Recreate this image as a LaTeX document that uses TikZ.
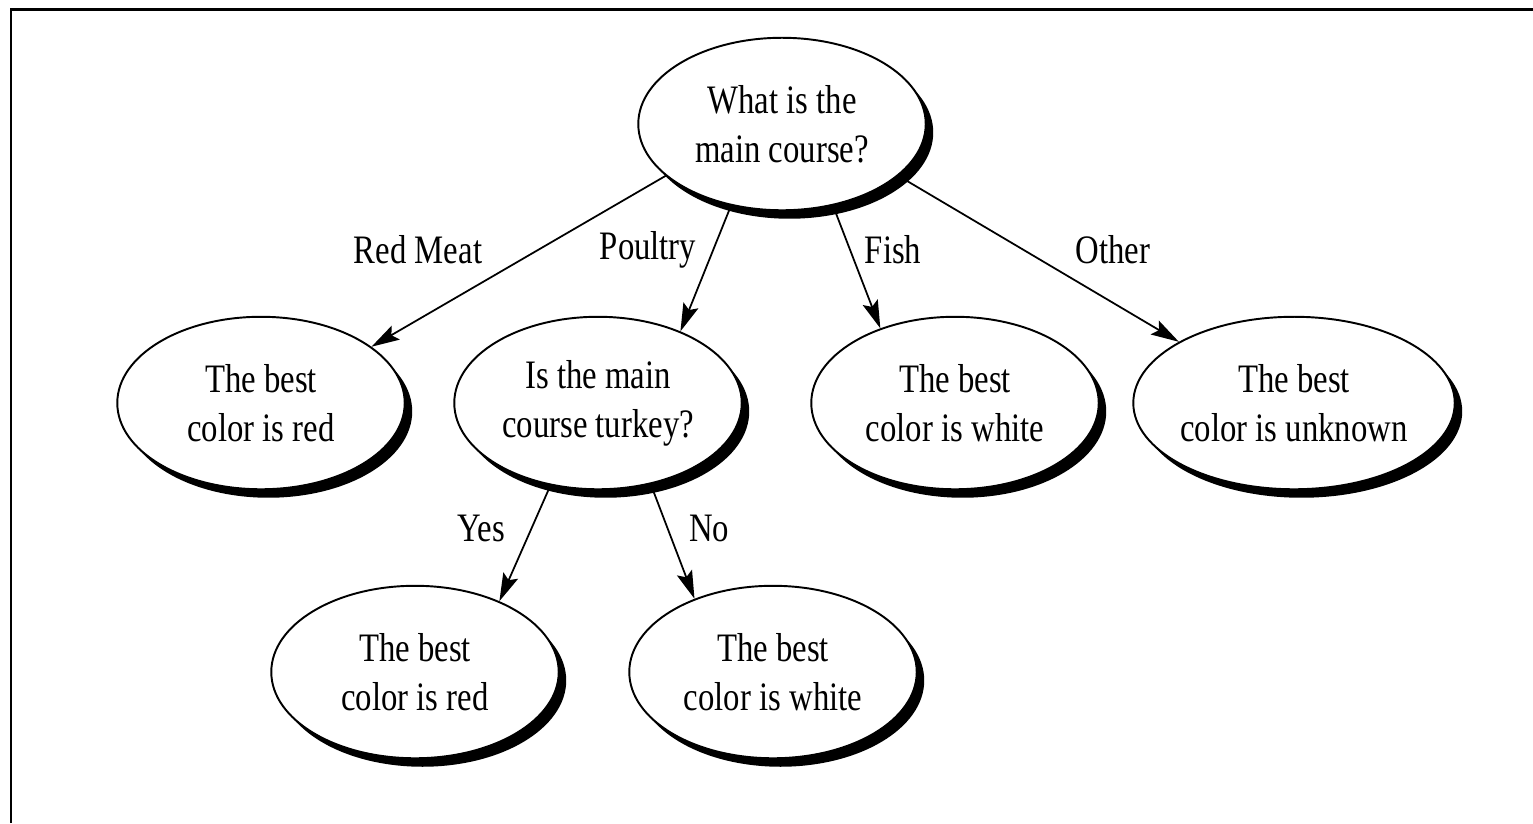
\documentclass[tikz,border=0pt]{standalone}
\usepackage{fontspec}
\setmainfont{Liberation Serif}[FakeStretch=0.81]
\usetikzlibrary{shapes.geometric,shadows,arrows.meta}
\tikzstyle{choiceNode}=[shape = ellipse, draw, line width = 1.1pt, fill = white, minimum width = 5.75cm, minimum height = 3.45cm, inner sep = 0pt, align = center, drop shadow = {shadow xshift = 0.15cm, shadow yshift = -0.17cm, fill = black, opacity = 1}]
\tikzstyle{branchLabel}=[inner sep = 0pt]
\tikzstyle{branchEdge}=[line width = 1pt, -{Stealth[length = 0.56cm, width = 0.32cm, inset = 0.1cm]}]

\begin{document}
\begin{tikzpicture}[x = 0.02cm, y = -0.02cm, font = \fontsize{23}{28}\selectfont]
\useasboundingbox (0,0) rectangle (1533,823);
\draw[line width = 1.7pt] (11,823) -- (11,9) -- (1533,9);
\node[choiceNode] (main) at (782,124) {What is the\\main course?};
\node[choiceNode] (red) at (261,403) {The best\\color is red};
\node[choiceNode] (turkey) at (598,403) {Is the main\\course turkey?};
\node[choiceNode] (white) at (955,403) {The best\\color is white};
\node[choiceNode] (unknown) at (1294,403) {The best\\color is unknown};
\node[choiceNode] (redTwo) at (415,672) {The best\\color is red};
\node[choiceNode] (whiteTwo) at (773,672) {The best\\color is white};
\node[branchLabel] (lMeat) at (418,250) {Red Meat};
\node[branchLabel] (lPoultry) at (648,250) {Poultry};
\node[branchLabel] (lFish) at (893,250) {Fish};
\node[branchLabel] (lOther) at (1113,250) {Other};
\node[branchLabel] (lYes) at (481,528) {Yes};
\node[branchLabel] (lNo) at (709,528) {No};
\draw[branchEdge] (main.204) -- (red.27);
\draw[branchEdge] (main.238) -- (turkey.41);
\draw[branchEdge] (main.302) -- (white.135);
\draw[branchEdge] (main.336) -- (unknown.152);
\draw[branchEdge] (turkey.240) -- (redTwo.40);
\draw[branchEdge] (turkey.303) -- (whiteTwo.137);
%
\end{tikzpicture}
\end{document}
